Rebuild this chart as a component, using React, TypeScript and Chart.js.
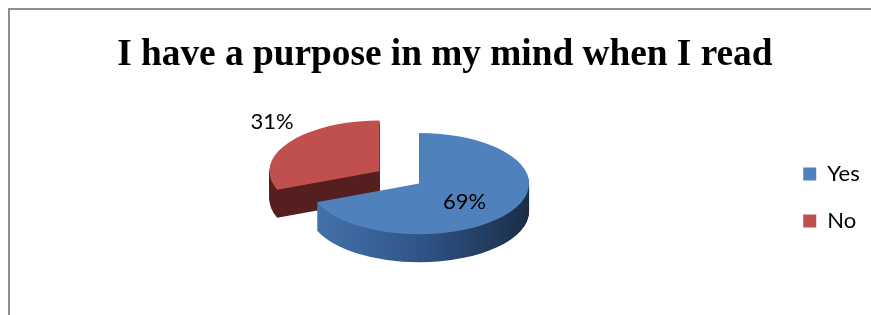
import React, { useEffect, useRef } from 'react';
import { Chart, registerables } from 'chart.js';

Chart.register(...registerables);

// ---- data ----
const TITLE = 'I have a purpose in my mind when I read';
const CATEGORIES = ['Yes', 'No'];
const VALUES = [69, 31];

// ---- style ----
const TOP_COLORS = ['#4F81BD', '#C0504D'];
const SIDE_COLORS: string[][] = [
  ['#4673ad', '#2f5588', '#1b2d47'],
  ['#541f1e', '#541f1e'],
];
const EXPLODE = [0, 48];
const LABEL_RADIUS = [0.5, 1.18];
const LABEL_LIFT = [4, -16];
const DEPTH = 28;
const TILT = 0.46;
const SHIFT_X = 20;
const LABEL_FONT = "22px Lato, 'Noto Sans', sans-serif";

const pie3d = {
  id: 'pie3d',
  beforeDatasetsDraw(chart: any) {
    const ctx: CanvasRenderingContext2D = chart.ctx;
    const meta = chart.getDatasetMeta(0);
    const arcs = meta.data;
    const total = VALUES.reduce((a, b) => a + b, 0);

    const geom = (arc: any, i: number) => {
      const p = arc.getProps(['x', 'y', 'startAngle', 'endAngle', 'outerRadius'], true);
      const mid = (p.startAngle + p.endAngle) / 2;
      return {
        ...p,
        mid,
        ex: Math.cos(mid) * EXPLODE[i],
        ey: Math.sin(mid) * EXPLODE[i],
      };
    };

    const face = (arc: any, i: number, dy: number, side: boolean) => {
      const g = geom(arc, i);
      ctx.save();
      ctx.translate(g.x + SHIFT_X, g.y + dy);
      ctx.scale(1, TILT);
      ctx.beginPath();
      ctx.moveTo(g.ex, g.ey);
      ctx.arc(g.ex, g.ey, g.outerRadius, g.startAngle, g.endAngle);
      ctx.closePath();
      if (side) {
        const stops = SIDE_COLORS[i];
        const grad = ctx.createLinearGradient(g.ex - g.outerRadius, 0, g.ex + g.outerRadius, 0);
        stops.forEach((c, k) => grad.addColorStop(k / (stops.length - 1), c));
        ctx.fillStyle = grad;
      } else {
        ctx.fillStyle = TOP_COLORS[i];
      }
      ctx.fill();
      ctx.restore();
    };

    // back slices first
    const order = arcs
      .map((a: any, i: number) => ({ i, ey: geom(a, i).ey }))
      .sort((a: any, b: any) => a.ey - b.ey)
      .map((o: any) => o.i);

    for (const i of order) {
      for (let d = DEPTH; d >= 1; d--) {
        face(arcs[i], i, d - DEPTH / 2, true);
      }
    }
    for (const i of order) {
      face(arcs[i], i, -DEPTH / 2, false);
    }

    // labels
    ctx.save();
    ctx.font = LABEL_FONT;
    ctx.fillStyle = '#000';
    ctx.textAlign = 'center';
    ctx.textBaseline = 'middle';
    arcs.forEach((arc: any, i: number) => {
      const g = geom(arc, i);
      const f = LABEL_RADIUS[i];
      const lx = Math.cos(g.mid) * g.outerRadius * f + g.ex;
      const ly = Math.sin(g.mid) * g.outerRadius * f + g.ey;
      const txt = Math.round((VALUES[i] / total) * 100) + '%';
      ctx.fillText(txt, g.x + SHIFT_X + lx, g.y - DEPTH / 2 + ly * TILT + LABEL_LIFT[i]);
    });
    ctx.restore();
    return false;
  },
};

export default function App() {
  const ref = useRef<HTMLCanvasElement | null>(null);

  useEffect(() => {
    if (!ref.current) return;
    const chart = new Chart(ref.current, {
      type: 'pie',
      data: {
        labels: CATEGORIES,
        datasets: [
          {
            data: VALUES,
            backgroundColor: TOP_COLORS,
            borderWidth: 0,
            radius: 110,
            clip: false,
          } as any,
        ],
      },
      options: {
        responsive: false,
        animation: false,
        devicePixelRatio: 1,
        layout: { padding: { left: 20, right: 1.3, top: 0, bottom: 15 } },
        plugins: {
          tooltip: { enabled: false },
          title: {
            display: true,
            text: TITLE,
            color: '#000',
            font: { family: "'Liberation Serif', 'Times New Roman', serif", size: 37.3, weight: 'bold' },
            padding: { top: 33, bottom: 17.4 },
          },
          legend: {
            display: true,
            position: 'right',
            fullSize: false,
            labels: {
              boxWidth: 13,
              boxHeight: 13,
              padding: 25,
              color: '#000',
              font: { family: "Lato, 'Noto Sans', sans-serif", size: 22 },
            },
          },
        },
      },
      plugins: [pie3d],
    } as any);
    return () => chart.destroy();
  }, []);

  return (
    <div
      style={{
        position: 'fixed',
        left: 0,
        top: 0,
        width: 871,
        height: 315,
        background: '#fff',
        overflow: 'hidden',
      }}
    >
      <div
        style={{
          position: 'absolute',
          left: 8,
          top: 8,
          width: 900,
          height: 400,
          borderLeft: '2px solid #8e8e8e',
          borderTop: '2px solid #8e8e8e',
        }}
      />
      <canvas
        ref={ref}
        width={871}
        height={315}
        style={{ position: 'absolute', left: 0, top: 0, width: 871, height: 315 }}
      />
    </div>
  );
}
